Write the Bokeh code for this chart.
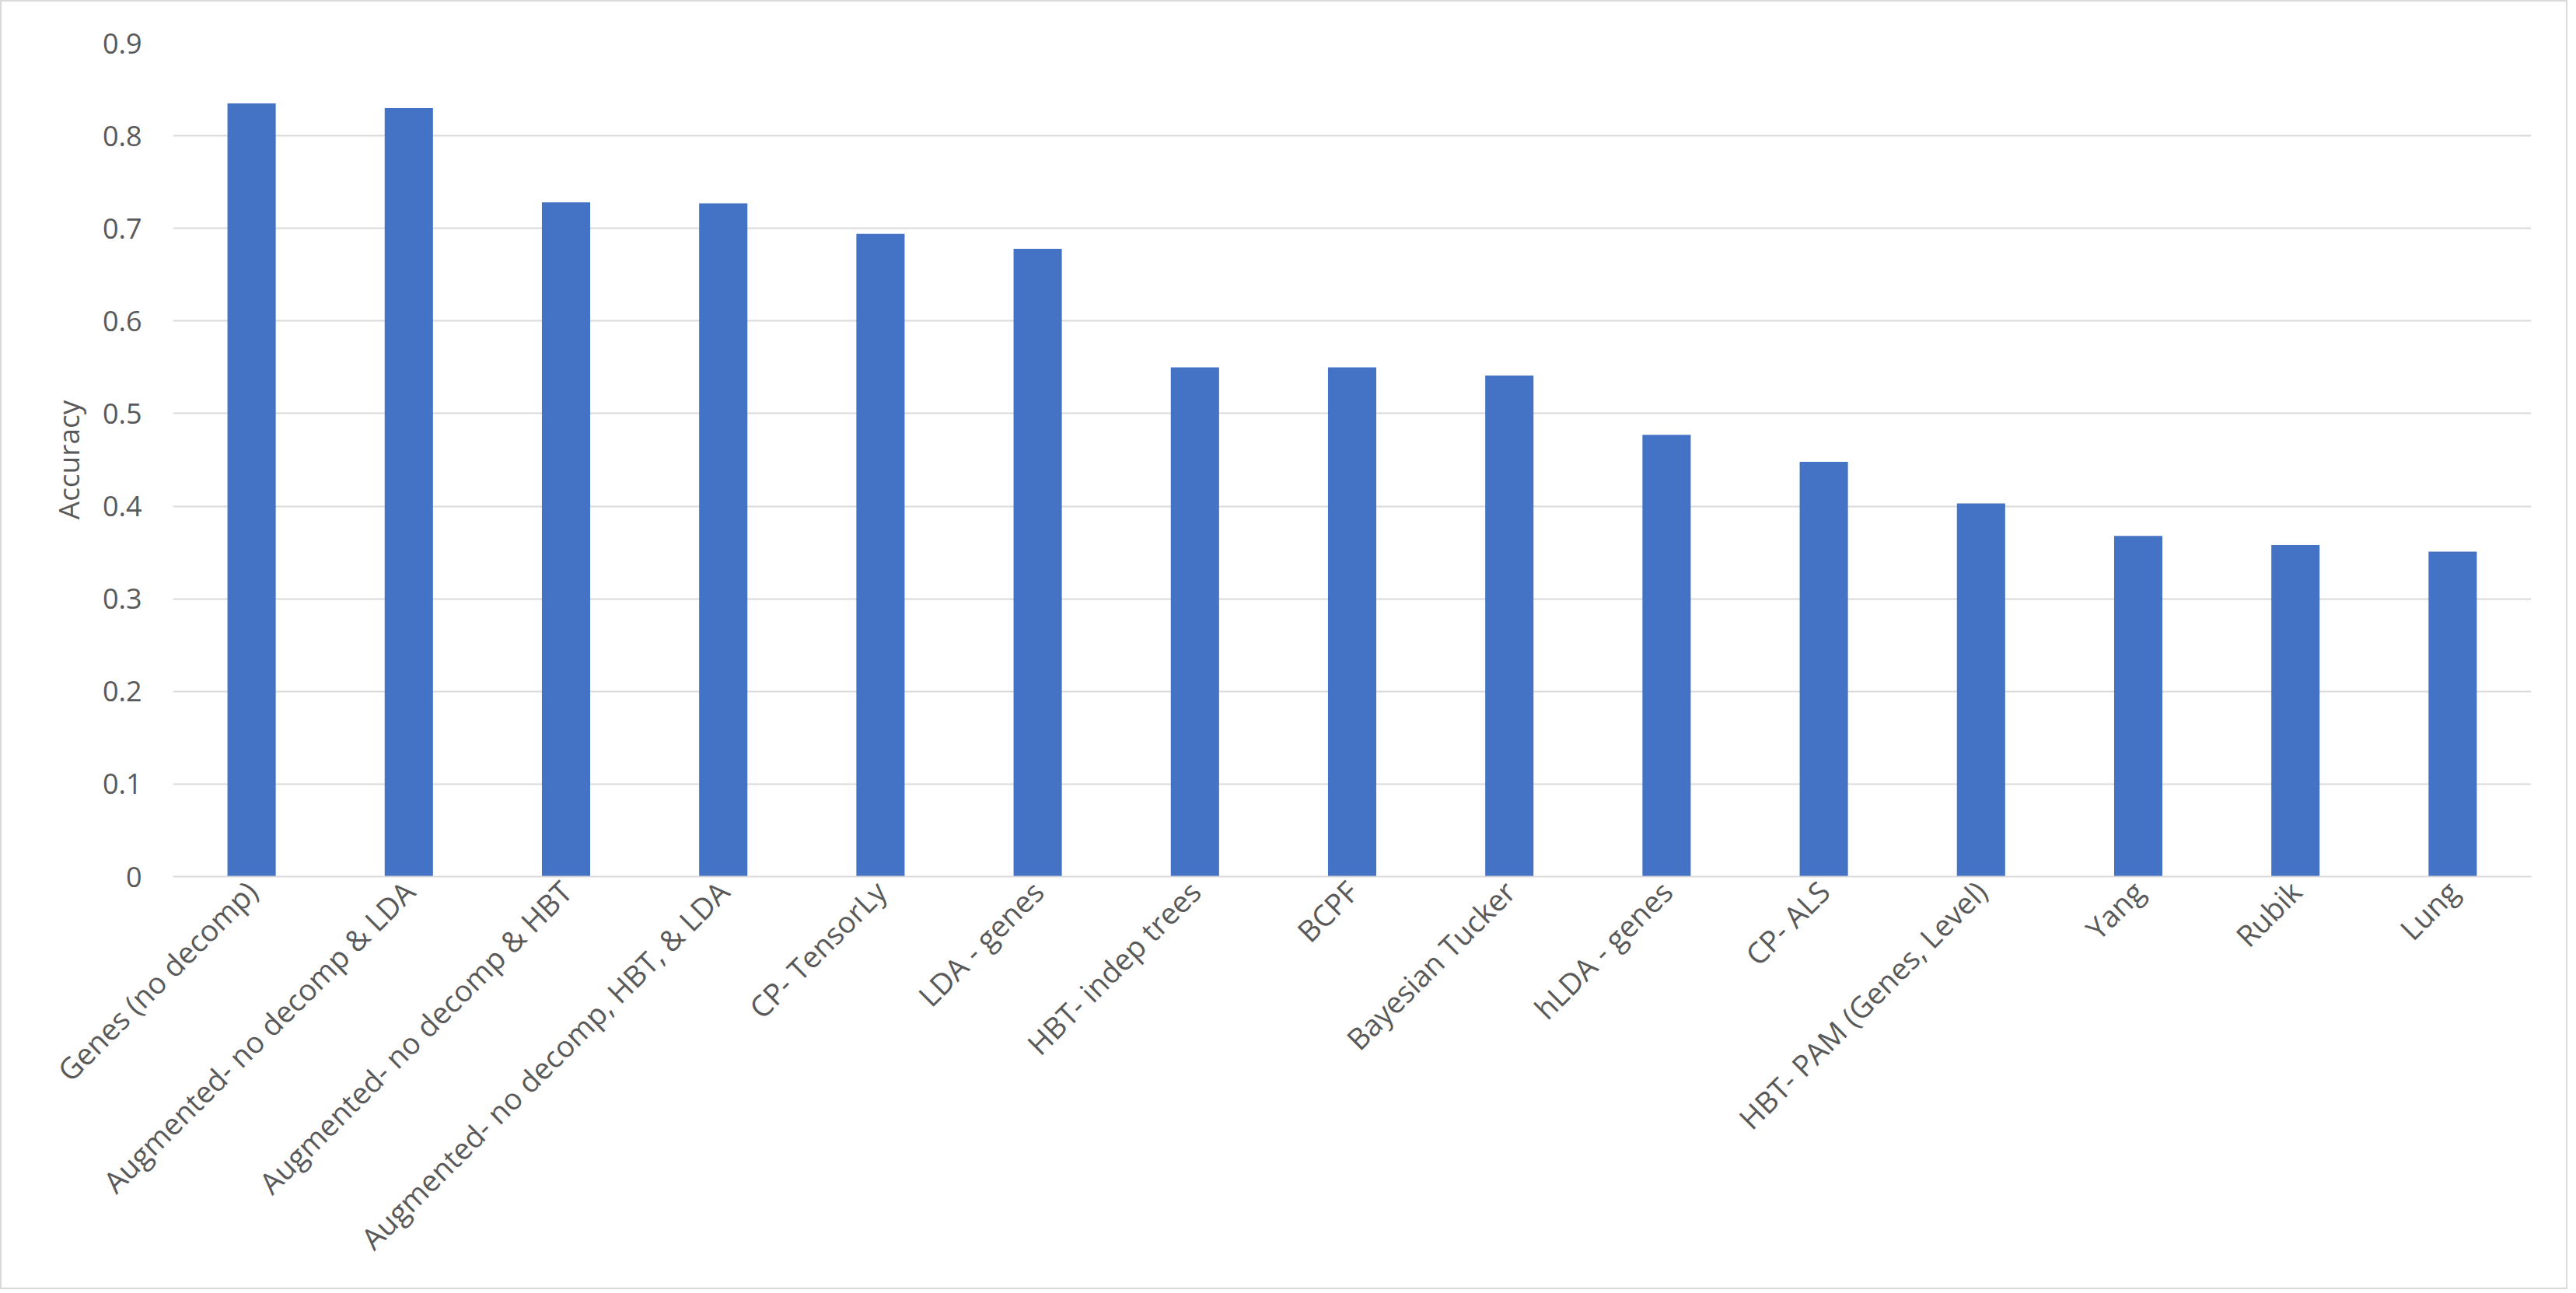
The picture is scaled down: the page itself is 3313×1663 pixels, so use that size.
from math import pi
from bokeh.plotting import figure
from bokeh.models import ColumnDataSource, FactorRange, Range1d, FixedTicker, CustomJSTickFormatter
from bokeh.embed import file_html
from bokeh.resources import INLINE

categories = [
    "Genes (no decomp)",
    "Augmented- no decomp & LDA",
    "Augmented- no decomp & HBT",
    "Augmented- no decomp, HBT, & LDA",
    "CP- TensorLy",
    "LDA - genes",
    "HBT- indep trees",
    "BCPF",
    "Bayesian Tucker",
    "hLDA - genes",
    "CP- ALS",
    "HBT- PAM (Genes, Level)",
    "Yang",
    "Rubik",
    "Lung",
]
accuracy = [0.835, 0.830, 0.728, 0.727, 0.694, 0.678, 0.550, 0.550, 0.541,
            0.477, 0.448, 0.403, 0.368, 0.358, 0.351]
y_ticks = [0, 0.1, 0.2, 0.3, 0.4, 0.5, 0.6, 0.7, 0.8, 0.9]

FONT = "Open Sans"
TXT = "#595959"
GRID = "#D9D9D9"

src = ColumnDataSource(dict(cat=categories, acc=accuracy))

p = figure(
    x_range=FactorRange(factors=categories, range_padding=0),
    y_range=Range1d(0, 0.9),
    width=3302, height=1658,
    output_backend="svg", toolbar_location=None,
    min_border_left=220, min_border_right=49, min_border_top=53, min_border_bottom=533,
)
p.styles = {"border": "2px solid #D9D9D9"}
p.outline_line_color = None
p.background_fill_color = "white"
p.border_fill_color = "white"

p.vbar(x="cat", top="acc", width=0.307, source=src, fill_color="#4472C4", line_color=None)

p.xgrid.grid_line_color = None
p.ygrid.grid_line_color = GRID
p.ygrid.grid_line_width = 2

p.yaxis.ticker = FixedTicker(ticks=y_ticks)
p.yaxis.formatter = CustomJSTickFormatter(code="return tick.toFixed(1).replace(/\\.0$/, '');")
p.yaxis.axis_line_color = None
p.yaxis.major_tick_line_color = None
p.yaxis.minor_tick_line_color = None
p.yaxis.major_tick_out = 0
p.yaxis.major_label_standoff = 40
p.yaxis.major_label_text_font = FONT
p.yaxis.major_label_text_font_size = "36px"
p.yaxis.major_label_text_color = TXT
p.yaxis.axis_label = "Accuracy"
p.yaxis.axis_label_text_font = FONT
p.yaxis.axis_label_text_font_size = "37px"
p.yaxis.axis_label_text_font_style = "normal"
p.yaxis.axis_label_text_color = TXT
p.yaxis.axis_label_standoff = 16

p.xaxis.axis_line_color = GRID
p.xaxis.axis_line_width = 2
p.xaxis.major_tick_line_color = None
p.xaxis.minor_tick_line_color = None
p.xaxis.major_tick_out = 0
p.xaxis.major_label_orientation = pi / 4
p.xaxis.major_label_standoff = 12
p.xaxis.major_label_text_font = FONT
p.xaxis.major_label_text_font_size = "38px"
p.xaxis.major_label_text_color = TXT

open("out.html", "w").write(file_html(p, INLINE))
